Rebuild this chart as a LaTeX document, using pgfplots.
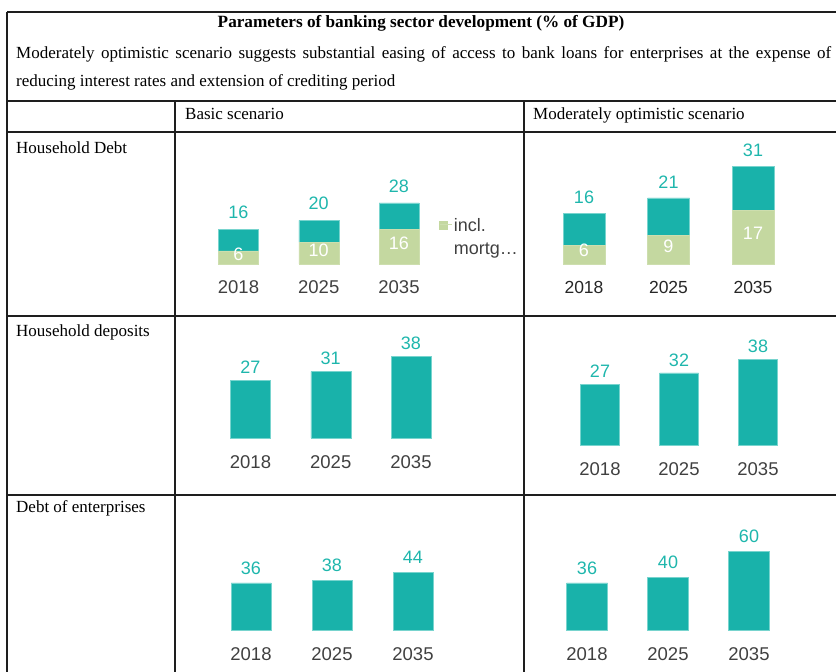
\documentclass[border=0pt]{standalone}
\usepackage{fontspec}
\setmainfont{Liberation Serif}
\newfontfamily\arial{Liberation Sans}
\usepackage{pgfplots}
\pgfplotsset{compat=1.18}
\definecolor{teal1}{RGB}{25,178,170}
\definecolor{tealedge}{RGB}{120,212,206}
\definecolor{mort}{RGB}{196,216,160}
\definecolor{yeargray}{RGB}{64,64,64}
\definecolor{labteal}{RGB}{30,182,172}
\definecolor{tline}{RGB}{30,30,30}
\pgfplotsset{
  panel/.style={
    scale only axis, clip=false,
    xmin=-0.5, xmax=2.5, ymin=0,
    axis line style={draw=none},
    tick style={draw=none},
    ytick=\empty,
    xtick={0,1,2}, xticklabels={2018,2025,2035},
    xticklabel style={anchor=center, yshift=-19.5pt, font=\arial\fontsize{18.5}{18.5}\selectfont, text=yeargray},
    /pgf/number format/assume math mode=true,
    anchor=south west,
    every node near coord/.append style={font=\arial\fontsize{18}{18}\selectfont, text=labteal, anchor=center},
  },
  geomA/.style={panel, at={(198.375pt,408pt)}, width=240.75pt, height=65.4pt, ymax=30},
  geomB/.style={panel, at={(541.75pt,408pt)}, width=253.5pt, height=110.25pt, ymax=35},
  tealbar/.style={fill=teal1, draw=tealedge, line width=0.5pt},
  mortbar/.style={fill=mort, draw=mort!85!white, line width=0.5pt},
}
\begin{document}
\begin{tikzpicture}[x=1pt,y=1pt]
\path[use as bounding box] (0,0) rectangle (836,672);
% table lines
\begin{scope}[line width=1.1pt, draw=tline]
\draw (7,660) -- (836,660);
\draw (7,571) -- (836,571);
\draw (7,540) -- (836,540);
\draw (7,356) -- (836,356);
\draw (7,177) -- (836,177);
\draw (7,660) -- (7,0);
\draw (175,571) -- (175,0);
\draw (524,571) -- (524,0);
\end{scope}
% texts
\node[anchor=base, inner sep=0pt, font=\bfseries\fontsize{17.2}{17}\selectfont] at (421,644) {Parameters of banking sector development (\% of GDP)};
\node[anchor=base west, inner sep=0pt, font=\fontsize{17}{17}\selectfont] at (16,613.5) {\makebox[815pt][s]{Moderately optimistic scenario suggests substantial easing of access to bank loans for enterprises at the expense of}};
\node[anchor=base west, inner sep=0pt, font=\fontsize{17}{17}\selectfont] at (16,585.5) {reducing interest rates and extension of crediting period};
\node[anchor=base west, inner sep=0pt, font=\fontsize{17}{17}\selectfont] at (185,552) {Basic scenario};
\node[anchor=base west, inner sep=0pt, font=\fontsize{17}{17}\selectfont] at (533,552) {Moderately optimistic scenario};
\node[anchor=base west, inner sep=0pt, font=\fontsize{17}{17}\selectfont] at (16,518) {Household Debt};
\node[anchor=base west, inner sep=0pt, font=\fontsize{17}{17}\selectfont] at (16,335.5) {Household deposits};
\node[anchor=base west, inner sep=0pt, font=\fontsize{17}{17}\selectfont] at (16,159) {Debt of enterprises};

% Panel A: household debt, basic (bars)
\begin{axis}[geomA, ybar stacked, bar width=40pt,
  xticklabel style={yshift=-3.5pt},
  legend style={draw=none, fill=none, at={(1,0.5)}, anchor=west, inner sep=0pt, yshift=7pt,
    font=\arial\fontsize{18}{23}\selectfont, text=yeargray},
  legend image code/.code={\fill[mort] (0pt,-5pt) rectangle (8pt,3pt); \path (0pt,0pt) -- (12pt,0pt);}]
\addplot[mortbar] coordinates {(0,6) (1,10) (2,16)};
\addlegendentry{\begin{tabular}[t]{@{}l@{}}incl.\\mortg…\end{tabular}}
\addplot[tealbar] coordinates {(0,10) (1,10) (2,12)};
\end{axis}
% Panel A labels
\begin{axis}[geomA, xtick=\empty]
\addplot[draw=none, mark=none, point meta=explicit symbolic, nodes near coords,
  every node near coord/.append style={yshift=17pt}]
  coordinates {(0,16) [16] (1,20) [20] (2,28) [28]};
\addplot[draw=none, mark=none, point meta=explicit symbolic, nodes near coords,
  every node near coord/.append style={text=white, yshift=3pt}]
  coordinates {(0,3) [6] (1,5) [10] (2,8) [16]};
\end{axis}

% Panel B: household debt, optimistic (bars)
\begin{axis}[geomB, ybar stacked, bar width=42pt,
  xticklabel style={yshift=-3.5pt, text=black!85, font=\arial\fontsize{17.5}{17.5}\selectfont}]
\addplot[mortbar] coordinates {(0,6) (1,9) (2,17)};
\addplot[tealbar] coordinates {(0,10) (1,12) (2,14)};
\end{axis}
% Panel B labels
\begin{axis}[geomB, xtick=\empty]
\addplot[draw=none, mark=none, point meta=explicit symbolic, nodes near coords,
  every node near coord/.append style={yshift=16pt}]
  coordinates {(0,16) [16] (1,21) [21] (2,31) [31]};
\addplot[draw=none, mark=none, point meta=explicit symbolic, nodes near coords,
  every node near coord/.append style={text=white, yshift=4pt}]
  coordinates {(0,3) [6] (1,4.5) [9] (2,8.5) [17]};
\end{axis}

% Panel C: household deposits, basic
\begin{axis}[panel, at={(210.375pt,234pt)}, width=240.75pt, height=85.6pt, ymax=40,
  ybar, bar width=40pt]
\addplot[tealbar, nodes near coords,
  every node near coord/.append style={yshift=13pt}]
  coordinates {(0,27) (1,31) (2,38)};
\end{axis}

% Panel D: household deposits, optimistic
\begin{axis}[panel, at={(560.5pt,227pt)}, width=237pt, height=90pt, ymax=40,
  ybar, bar width=39pt]
\addplot[tealbar, nodes near coords,
  every node near coord/.append style={yshift=13pt}]
  coordinates {(0,27) (1,32) (2,38)};
\end{axis}

% Panel E: debt of enterprises, basic
\begin{axis}[panel, at={(210.5pt,42pt)}, width=243pt, height=78.6pt, ymax=60,
  ybar, bar width=40pt]
\addplot[tealbar, nodes near coords,
  every node near coord/.append style={yshift=15pt}]
  coordinates {(0,36) (1,38) (2,44)};
\end{axis}

% Panel F: debt of enterprises, optimistic
\begin{axis}[panel, at={(546.5pt,42pt)}, width=243pt, height=78.6pt, ymax=60,
  ybar, bar width=41pt]
\addplot[tealbar, nodes near coords,
  every node near coord/.append style={yshift=15pt}]
  coordinates {(0,36) (1,40) (2,60)};
\end{axis}
\end{tikzpicture}
\end{document}
